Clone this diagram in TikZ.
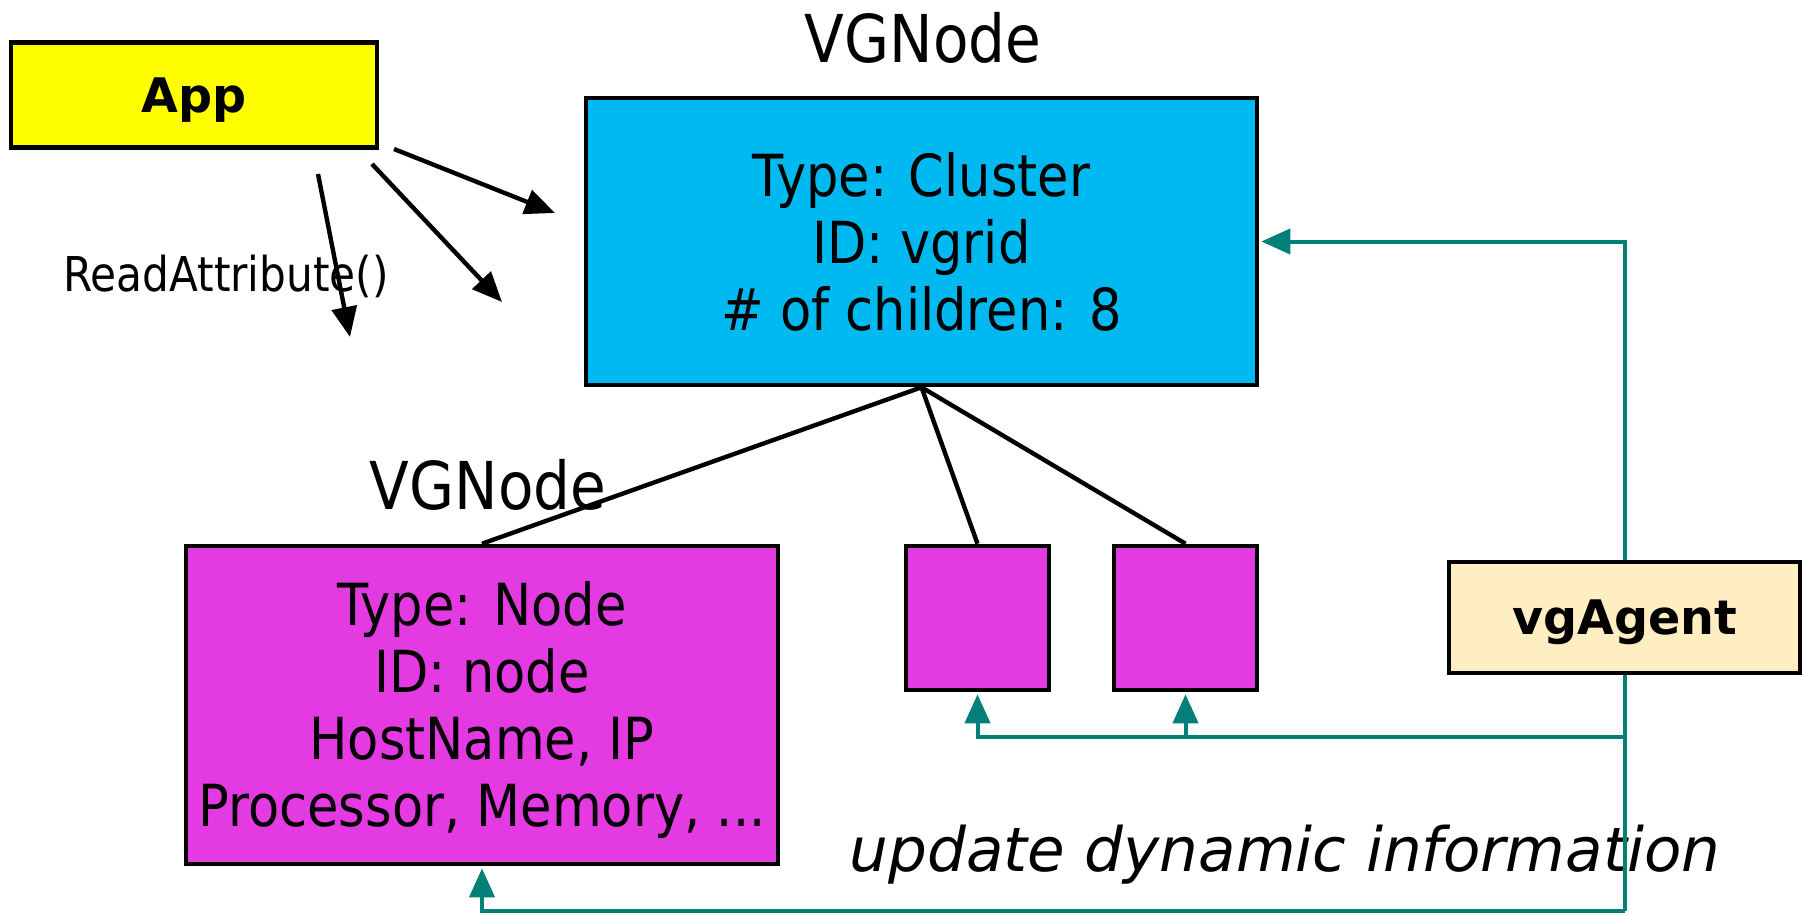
\documentclass[tikz,border=0pt]{standalone}
\usepackage{fontspec}
\setmainfont{DejaVu Sans}
\newfontfamily\condf{DejaVu Sans}[FakeStretch=0.88]
\usetikzlibrary{arrows.meta}
\definecolor{appyellow}{RGB}{255,255,0}
\definecolor{clusterblue}{RGB}{0,185,240}
\definecolor{nodemag}{RGB}{228,58,225}
\definecolor{agentcream}{RGB}{255,238,194}
\definecolor{tealc}{RGB}{0,128,118}
\begin{document}
\begin{tikzpicture}[x=0.5pt,y=-0.5pt,
  box/.style={draw=black, line width=2.3pt, inner sep=0pt, align=center},
  boxtext/.style={font=\condf\fontsize{29}{33.5}\selectfont},
  titletext/.style={font=\condf\fontsize{33}{38}\selectfont, inner sep=0pt},
  boldtext/.style={font=\bfseries\fontsize{23.8}{28}\selectfont, text depth=0pt},
  blackline/.style={draw=black, line width=2.2pt},
  blackarrow/.style={blackline, -{Triangle[length=15pt,width=12.5pt]}},
  tealline/.style={draw=tealc, line width=2pt},
  tealarrow/.style={tealline, -{Triangle[length=14.5pt,width=12.5pt]}, shorten >=1pt}]
\path[use as bounding box] (0,0) rectangle (1802,915);

% boxes
\node[box, fill=appyellow, minimum width=183pt, minimum height=52.5pt, boldtext] (app) at (194,95) {App};
\node[titletext] (title1) at (923,38) {VGNode};
\node[box, fill=clusterblue, minimum width=335.5pt, minimum height=143.5pt, boxtext] (cluster) at (921.5,241.5)
  {Type: Cluster\\ID: vgrid\\\# of children: 8};
\node[titletext] (title2) at (488,485) {VGNode};
\node[box, fill=nodemag, minimum width=296pt, minimum height=159pt, boxtext] (nodeA) at (482,705)
  {\rule{0pt}{27pt}Type: Node\\ID: node\\HostName, IP\\Processor, Memory, ...};
\node[box, fill=nodemag, minimum width=71.5pt, minimum height=72pt] (s1) at (977.5,618) {};
\node[box, fill=nodemag, minimum width=71.5pt, minimum height=72pt] (s2) at (1185.5,618) {};
\node[box, fill=agentcream, minimum width=175.5pt, minimum height=55.5pt, boldtext] (agent) at (1624.5,617.5) {vgAgent};

% labels
\node[font=\condf\fontsize{24}{28}\selectfont, inner sep=0pt] (readattr) at (226,276) {ReadAttribute()};
\node[font=\itshape\fontsize{30.6}{36}\selectfont, inner sep=0pt] (update) at (1285,855) {update dynamic information};

% App arrows (free ends)
\coordinate (a1s) at (394,149); \coordinate (a1e) at (555,213);
\coordinate (a2s) at (372,164); \coordinate (a2e) at (502,302);
\coordinate (a3s) at (318,174); \coordinate (a3e) at (350,337);
\draw[blackarrow] (a1s) -- (a1e);
\draw[blackarrow] (a2s) -- (a2e);
\draw[blackarrow] (a3s) -- (a3e);

% tree lines
\draw[blackline] (cluster.south) -- (nodeA.north);
\draw[blackline] (cluster.south) -- (s1.north);
\draw[blackline] (cluster.south) -- (s2.north);

% teal update lines
\coordinate (jn) at (1624.5,737);
\coordinate (jb) at (1624.5,911);
\draw[tealarrow] (agent.north) |- (cluster.east);
\draw[tealline] (agent.south) -- (jn) -- (jb);
\draw[tealarrow] (jn) -| (s1.south);
\draw[tealarrow] (s2.south |- jn) -- (s2.south);
\draw[tealarrow] (jb) -| (nodeA.south);
\end{tikzpicture}
\end{document}
